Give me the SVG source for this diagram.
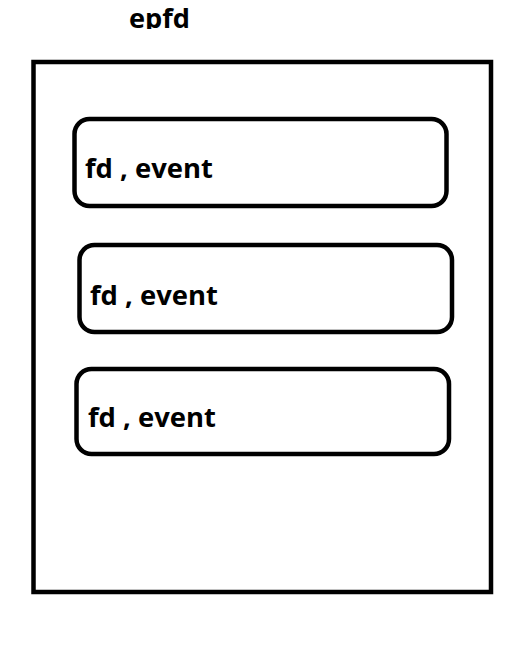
<svg xmlns="http://www.w3.org/2000/svg" width="527" height="667" viewBox="0 0 527 667">
<style>
.frame{fill:none;stroke:#000;stroke-width:4.5}
.box{fill:#fff;stroke:#000;stroke-width:4.5}
.lbl{font-family:"Open Sans","Liberation Sans",Arial,sans-serif;font-weight:bold;font-size:27px;fill:#000}
</style>
<defs>
<clipPath id="titleClip"><rect x="0" y="0" width="527" height="29"/></clipPath>
</defs>
<rect width="527" height="667" fill="#fff"/>
<g id="title" clip-path="url(#titleClip)">
<text class="lbl" x="129" y="28" textLength="61" lengthAdjust="spacingAndGlyphs">epfd</text>
</g>
<g id="epfd">
<rect class="frame" x="33.5" y="62" width="457.5" height="530"/>
</g>
<g id="node1">
<rect class="box" x="74.5" y="119" width="372" height="87" rx="15" ry="15"/>
<text class="lbl" x="85" y="178" textLength="128" lengthAdjust="spacingAndGlyphs">fd , event</text>
</g>
<g id="node2">
<rect class="box" x="79.5" y="245" width="372.5" height="87" rx="15" ry="15"/>
<text class="lbl" x="90" y="305" textLength="128" lengthAdjust="spacingAndGlyphs">fd , event</text>
</g>
<g id="node3">
<rect class="box" x="76.5" y="369" width="372.5" height="85" rx="15" ry="15"/>
<text class="lbl" x="88" y="427" textLength="128" lengthAdjust="spacingAndGlyphs">fd , event</text>
</g>
<g id="connectors"></g>
</svg>
